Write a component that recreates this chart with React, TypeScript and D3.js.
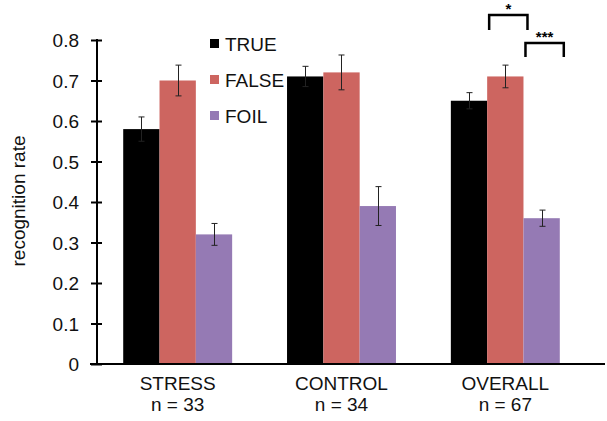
import React, { useRef, useEffect } from 'react';
import * as d3 from 'd3';

const groups = ['STRESS', 'CONTROL', 'OVERALL'];
const groupSizes = ['n = 33', 'n = 34', 'n = 67'];
const seriesNames = ['TRUE', 'FALSE', 'FOIL'];
const seriesColors = ['#000000', '#cd6560', '#957ab4'];
const trueValues = [0.58, 0.71, 0.65];
const falseValues = [0.70, 0.72, 0.71];
const foilValues = [0.32, 0.39, 0.36];
const trueErrors = [0.03, 0.025, 0.02];
const falseErrors = [0.038, 0.043, 0.028];
const foilErrors = [0.027, 0.048, 0.02];
const yTicks = [0, 0.1, 0.2, 0.3, 0.4, 0.5, 0.6, 0.7, 0.8];

const App = () => {
  const d3Container = useRef(null);

  useEffect(() => {
    if (!d3Container.current) return;
    d3.select(d3Container.current).selectAll('*').remove();

    const width = 607;
    const height = 421;
    const font = 'Arial, "Liberation Sans", sans-serif';
    const values = [trueValues, falseValues, foilValues];
    const errors = [trueErrors, falseErrors, foilErrors];

    const svg = d3.select(d3Container.current)
      .attr('width', width)
      .attr('height', height)
      .style('font-family', font);

    const x0 = d3.scaleBand()
      .domain(groups)
      .range([97, 586])
      .paddingInner(0.335)
      .paddingOuter(0.16);

    const x1 = d3.scaleBand()
      .domain(seriesNames)
      .range([0, x0.bandwidth()]);

    const y = d3.scaleLinear()
      .domain([0, 0.8])
      .range([364, 40]);

    // bars
    seriesNames.forEach((s, si) => {
      svg.append('g')
        .selectAll('rect')
        .data(groups)
        .join('rect')
        .attr('x', g => x0(g) + x1(s))
        .attr('y', (g, i) => y(values[si][i]))
        .attr('width', x1.bandwidth())
        .attr('height', (g, i) => y(0) - y(values[si][i]))
        .attr('fill', seriesColors[si]);
    });

    // error bars
    seriesNames.forEach((s, si) => {
      const eg = svg.append('g')
        .attr('stroke', '#222')
        .attr('stroke-width', 1);
      groups.forEach((g, i) => {
        const cx = Math.round(x0(g) + x1(s) + x1.bandwidth() / 2) + 0.5;
        const top = y(values[si][i] + errors[si][i]);
        const bot = y(values[si][i] - errors[si][i]);
        eg.append('line').attr('x1', cx).attr('x2', cx).attr('y1', top).attr('y2', bot);
        eg.append('line').attr('x1', cx - 3).attr('x2', cx + 3).attr('y1', top).attr('y2', top);
        eg.append('line').attr('x1', cx - 3).attr('x2', cx + 3).attr('y1', bot).attr('y2', bot);
      });
    });

    // y axis
    const yAxis = svg.append('g')
      .attr('transform', 'translate(97,0)')
      .call(d3.axisLeft(y).tickValues(yTicks).tickSize(0).tickFormat(d => d === 0 ? '0' : d3.format('.1f')(d)));
    yAxis.select('.domain').remove();
    yAxis.selectAll('text')
      .attr('x', -18)
      .attr('dy', '0.35em')
      .attr('font-size', 19)
      .attr('font-family', font)
      .attr('fill', '#111');
    yAxis.append('line')
      .attr('y1', y(0.8) - 1).attr('y2', y(0) + 1)
      .attr('stroke', '#000').attr('stroke-width', 2);
    yAxis.selectAll('.tick').append('line')
      .attr('x1', -6).attr('x2', 5)
      .attr('stroke', '#000').attr('stroke-width', 2);

    // x axis
    const xAxis = svg.append('g')
      .attr('transform', `translate(0,${y(0)})`);
    xAxis.append('line')
      .attr('x1', 90).attr('x2', 605)
      .attr('stroke', '#000').attr('stroke-width', 2);
    groups.forEach((g, i) => {
      const cx = x0(g) + x0.bandwidth() / 2;
      xAxis.append('text')
        .attr('x', cx).attr('y', 26)
        .attr('text-anchor', 'middle')
        .attr('font-size', 19)
        .attr('fill', '#111')
        .text(g);
      xAxis.append('text')
        .attr('x', cx).attr('y', 47)
        .attr('text-anchor', 'middle')
        .attr('font-size', 19)
        .attr('fill', '#111')
        .text(groupSizes[i]);
    });

    // y label
    svg.append('text')
      .attr('transform', 'translate(25,201) rotate(-90)')
      .attr('text-anchor', 'middle')
      .attr('font-size', 19)
      .attr('fill', '#111')
      .text('recognition rate');

    // legend
    const legend = svg.append('g').attr('transform', 'translate(210,44)');
    seriesNames.forEach((s, i) => {
      legend.append('rect')
        .attr('x', 0).attr('y', i * 36 - 5)
        .attr('width', 9).attr('height', 9)
        .attr('fill', seriesColors[i]);
      legend.append('text')
        .attr('x', 15).attr('y', i * 36)
        .attr('dy', '0.35em')
        .attr('font-size', 19)
        .attr('fill', '#111')
        .text(s);
    });

    // significance brackets (OVERALL)
    const og = x0('OVERALL');
    const brackets = [
      { a: og + x1('TRUE') + x1.bandwidth(), b: og + x1('FALSE') + x1.bandwidth(), top: 15, bot: 30, label: '*' },
      { a: og + x1('FALSE') + x1.bandwidth(), b: og + x1('FOIL') + x1.bandwidth(), top: 43, bot: 57, label: '***' },
    ];
    brackets.forEach(br => {
      svg.append('path')
        .attr('d', `M${br.a + 2},${br.bot}V${br.top}H${br.b + 4}V${br.bot}`)
        .attr('fill', 'none')
        .attr('stroke', '#000')
        .attr('stroke-width', 2.5);
      svg.append('text')
        .attr('x', (br.a + br.b) / 2 + 3).attr('y', br.top - 1)
        .attr('text-anchor', 'middle')
        .attr('font-size', 15)
        .attr('font-weight', 'bold')
        .attr('fill', '#000')
        .text(br.label);
    });
  }, []);

  return (
    <svg ref={d3Container} style={{ position: 'absolute', left: 0, top: 0 }}></svg>
  );
};

export default App;
